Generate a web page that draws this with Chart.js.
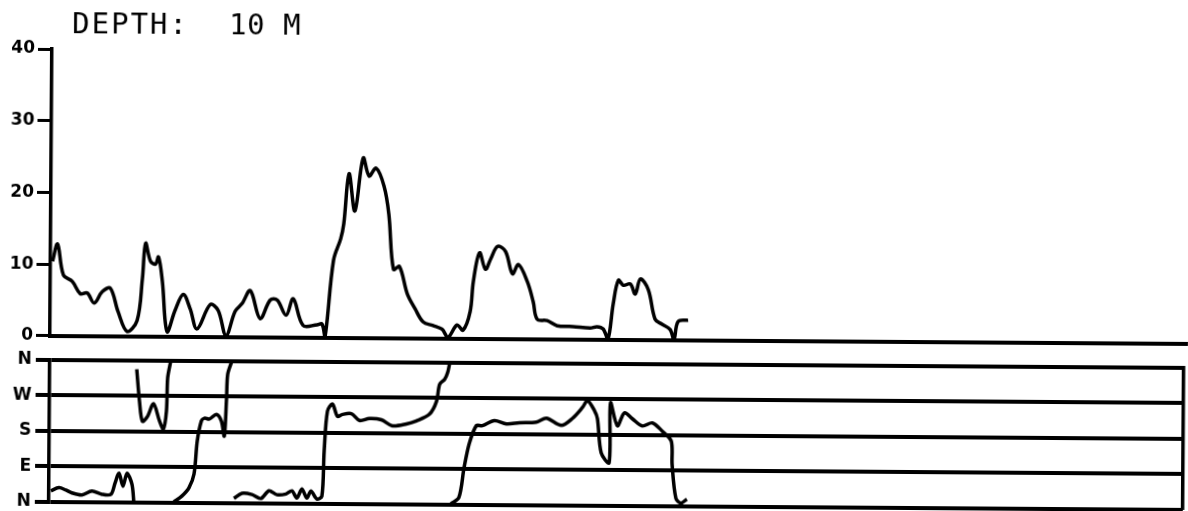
<!DOCTYPE html>
<html>
<head>
<meta charset="utf-8">
<title>Depth 10 m</title>
<script src="https://cdn.jsdelivr.net/npm/chart.js@4.4.1/dist/chart.umd.min.js"></script>
<style>
  html, body { margin: 0; padding: 0; background: #fff; overflow: hidden; }
  /* the original sheet sits slightly skewed on the scan */
  #wrap { position: relative; width: 1188px; height: 511px; transform: rotate(0.4deg); transform-origin: 50px 334px; }
  #speedChart { position: absolute; left: 0; top: 0; }
  #dirChart { position: absolute; left: 0; top: 340px; }
</style>
</head>
<body>
<div id="wrap">
  <canvas id="speedChart" width="1188" height="349"></canvas>
  <canvas id="dirChart" width="1188" height="176"></canvas>
</div>
<script>
// current speed (upper panel)
const speedTime = [0.2, 0.7, 1.3, 2.2, 3.0, 3.7, 4.4, 5.2, 6.0, 6.8, 7.7, 8.7, 9.2, 9.5, 10.0, 10.5, 10.8, 11.2, 11.7,
  12.5, 13.3, 14.0, 14.7, 16.0, 16.8, 17.6, 18.5, 19.2, 20.0, 21.0, 22.0, 22.7, 23.6, 24.3, 25.3, 26.7, 27.2, 27.5,
  28.3, 29.0, 29.3, 29.8, 30.4, 31.2, 31.8, 32.5, 33.3, 33.8, 34.3, 34.9, 35.7, 36.5, 37.3, 38.3, 39.2, 39.8,
  40.7, 41.3, 42.0, 42.3, 42.9, 43.5, 44.0, 44.7, 45.5, 46.2, 46.8, 47.7, 48.3, 48.7, 49.7, 50.7, 52.3, 54.0,
  54.7, 55.3, 55.8, 56.3, 56.8, 57.3, 58.0, 58.5, 59.0, 59.8, 60.5, 61.2, 62.0, 62.4, 62.8, 63.8];
const speedValues = [10.4, 12.8, 8.5, 7.6, 5.9, 6.0, 4.6, 6.2, 6.7, 3.4, 0.7, 2.2, 8.0, 13.0, 10.5, 10.1, 11.1, 7.7, 0.7,
  3.7, 5.9, 3.9, 1.1, 4.5, 3.7, 0.2, 3.6, 4.7, 6.5, 2.6, 5.2, 5.2, 3.1, 5.4, 1.7, 1.8, 1.9, 0.1,
  10.8, 13.8, 15.9, 22.9, 17.7, 25.1, 22.6, 23.7, 21.2, 17.3, 9.6, 10.0, 6.2, 4.1, 2.3, 1.8, 1.3, 0.2,
  1.9, 1.2, 3.8, 8.0, 12.0, 9.7, 11.1, 12.9, 12.2, 9.1, 10.4, 8.0, 5.2, 2.8, 2.6, 1.9, 1.8, 1.6,
  1.8, 1.5, 0.1, 5.0, 8.3, 7.6, 7.8, 6.4, 8.5, 7.0, 2.9, 2.2, 1.5, 0.1, 2.6, 2.8];
const speedTicks = [0, 10, 20, 30, 40];

// current direction (lower panel), null = wrap from N to N
const dirTime = [0.2, 1.0, 1.7, 2.3, 3.3, 4.3, 5.3, 6.2, 6.6, 7.0, 7.4, 7.8, 8.3, 8.5, 8.6,
  8.7, 9.0, 9.3, 9.8, 10.4, 11.0, 11.4, 11.7, 11.8, 12.1, 12.3,
  12.5, 13.3, 14.0, 14.5, 14.8, 15.2, 15.5, 16.0, 16.7, 17.2, 17.5, 17.7, 17.8, 18.2, 18.3,
  18.5, 19.3, 20.3, 21.2, 22.0, 22.8, 23.7, 24.3, 24.8, 25.3, 25.8, 26.2, 26.8, 27.3, 27.5, 27.8, 28.3,
  28.8, 29.3, 30.2, 31.0, 32.0, 33.2, 34.3, 35.7, 36.7, 38.0, 38.7, 39.0, 39.5, 39.8, 40.0, 40.1,
  40.2, 41.0, 41.5, 42.0, 42.7, 43.3, 44.5, 45.7, 47.0, 48.7, 49.7, 51.2, 52.3, 53.3, 53.8, 54.5,
  54.8, 55.2, 56.0, 56.1, 56.8, 57.5, 58.3, 59.3, 60.3, 61.3, 62.2, 62.3, 62.7, 63.2, 63.8];
const dirValues = [28, 36, 30, 23, 18, 28, 20, 20, 48, 74, 41, 74, 46, 0, null,
  338, 256, 206, 218, 251, 208, 187, 233, 317, 360, null,
  2, 17, 38, 73, 157, 208, 215, 213, 225, 208, 170, 266, 327, 360, null,
  12, 25, 22, 12, 32, 22, 24, 32, 14, 37, 14, 32, 12, 19, 134, 235, 253,
  222, 227, 229, 212, 217, 214, 199, 204, 212, 229, 262, 305, 318, 336, 360, null,
  2, 18, 94, 155, 201, 201, 214, 206, 209, 211, 221, 203, 221, 249, 266, 241,
  221, 134, 109, 261, 203, 236, 221, 203, 211, 190, 165, 106, 20, 8, 18];
const dirTicks = [0, 90, 180, 270, 360];
const dirLabels = ['N', 'E', 'S', 'W', 'N'];

const tickFont = { family: 'DejaVu Sans', size: 17, weight: 'bold' };

function points(xs, ys) {
  return xs.map((x, i) => ({ x: x, y: ys[i] }));
}

const titlePlugin = {
  id: 'depthTitle',
  afterDraw(chart) {
    const ctx = chart.ctx;
    ctx.save();
    ctx.fillStyle = '#000';
    ctx.font = '29px "DejaVu Sans Mono"';
    ctx.textBaseline = 'alphabetic';
    ctx.letterSpacing = '2px';
    ctx.fillText('DEPTH:', 70, 33);
    ctx.letterSpacing = '0.5px';
    ctx.fillText('10 M', 227, 33);
    ctx.restore();
  }
};

new Chart(document.getElementById('speedChart'), {
  type: 'line',
  data: {
    datasets: [{
      data: points(speedTime, speedValues),
      borderColor: '#000',
      borderWidth: 3.5,
      pointRadius: 0,
      tension: 0.35,
      fill: false
    }]
  },
  options: {
    responsive: false,
    animation: false,
    layout: { padding: { top: 49, bottom: 11, left: 0, right: 0 } },
    plugins: { legend: { display: false }, tooltip: { enabled: false } },
    scales: {
      x: {
        type: 'linear', min: 0, max: 113.8,
        ticks: { display: false },
        grid: { display: false },
        border: { display: true, color: '#000', width: 4 },
        afterFit(s) { s.height = 0; }
      },
      y: {
        min: 0, max: 40,
        afterBuildTicks(s) { s.ticks = speedTicks.map(v => ({ value: v })); },
        ticks: { color: '#000', font: tickFont, padding: 3 },
        grid: { drawOnChartArea: false, color: '#000', tickLength: 14, tickWidth: 3 },
        border: { display: true, color: '#000', width: 3.5 },
        afterFit(s) { s.width = 50; }
      }
    }
  },
  plugins: [titlePlugin]
});

new Chart(document.getElementById('dirChart'), {
  type: 'line',
  data: {
    datasets: [{
      data: points(dirTime, dirValues),
      borderColor: '#000',
      borderWidth: 3.5,
      pointRadius: 0,
      tension: 0.3,
      spanGaps: false,
      fill: false
    }]
  },
  options: {
    responsive: false,
    animation: false,
    layout: { padding: { top: 20, bottom: 10, left: 0, right: 4 } },
    plugins: { legend: { display: false }, tooltip: { enabled: false } },
    scales: {
      x: {
        type: 'linear', min: 0, max: 113.4,
        display: false
      },
      y: {
        min: 0, max: 360,
        afterBuildTicks(s) { s.ticks = dirTicks.map(v => ({ value: v })); },
        ticks: {
          color: '#000', font: tickFont, padding: 4,
          callback: v => dirLabels[dirTicks.indexOf(v)]
        },
        grid: { color: '#000', lineWidth: 4, tickLength: 14, tickWidth: 4 },
        border: { display: true, color: '#000', width: 3.5 },
        afterFit(s) { s.width = 50; }
      },
      yRight: {
        position: 'right',
        min: 0, max: 360,
        ticks: { display: false },
        grid: { display: false },
        border: { display: true, color: '#000', width: 3.5 },
        afterFit(s) { s.width = 0; }
      }
    }
  }
});
</script>
</body>
</html>
